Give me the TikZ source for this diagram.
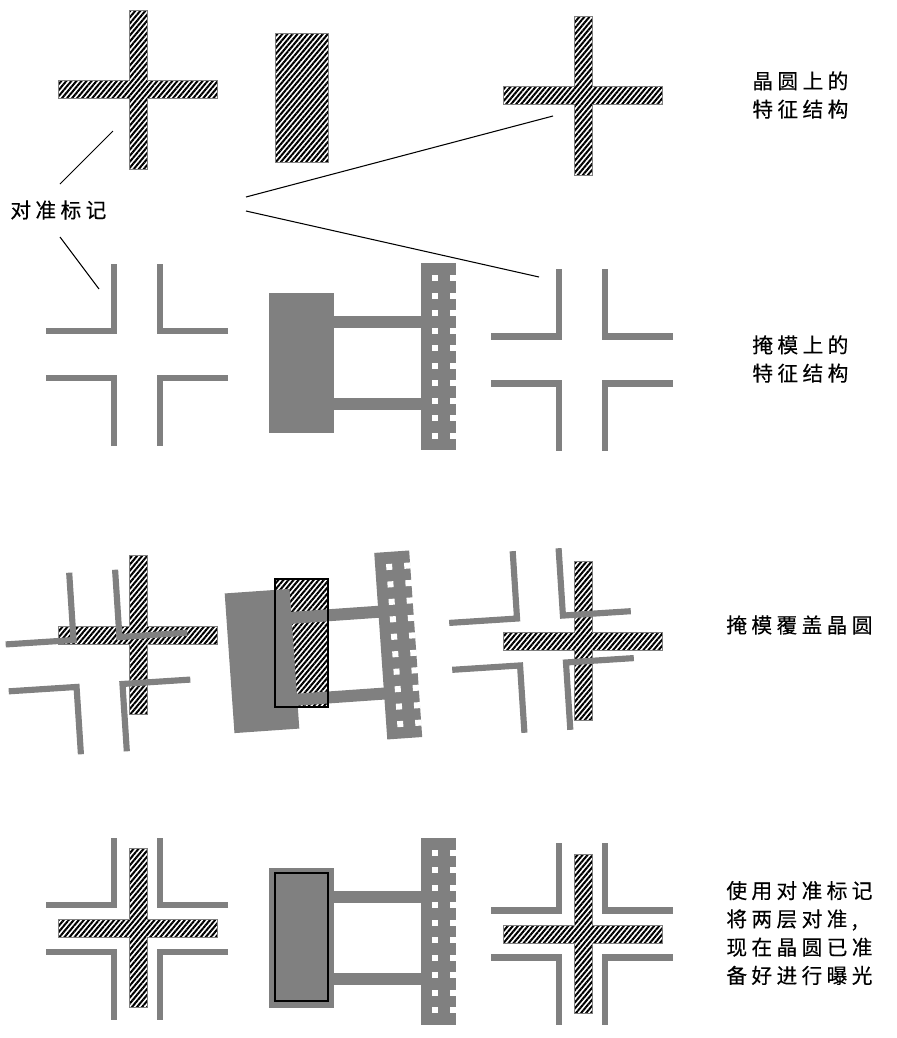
\documentclass[tikz,border=0pt]{standalone}
\usepackage{fontspec}
\usetikzlibrary{patterns.meta}
\newfontfamily\cjk[LetterSpace=21,FakeBold=0.2]{Noto Sans CJK SC}
\definecolor{maskgray}{RGB}{128,128,128}
\tikzset{hatch/.style={draw=gray,line width=0.4pt,pattern={Lines[angle=50,distance=2.2pt,line width=1.15pt]},pattern color=black}}
\tikzset{maskfill/.style={fill=maskgray,draw=none}}
\tikzset{maskbar/.style={draw=maskgray,line width=3.5pt,line cap=butt,miter limit=10}}
\tikzset{leader/.style={black,line width=0.6pt}}
\tikzset{outline/.style={black,line width=0.8pt}}
\tikzset{caption/.style={font=\cjk\fontsize{11.8}{16.1}\selectfont,align=left,inner sep=0pt,anchor=west}}
\tikzset{
  wafercross/.pic={
    \draw[hatch] (-9,-79.5) -- (9,-79.5) -- (9,-9) -- (79.5,-9) -- (79.5,9) -- (9,9) -- (9,79.5) -- (-9,79.5) -- (-9,9) -- (-79.5,9) -- (-79.5,-9) -- (-9,-9) -- cycle;
  },
  maskmark/.pic={
    \foreach \sx in {-1,1}
      \foreach \sy in {-1,1}
        \draw[maskbar] (\sx*91,\sy*23.5) -- (\sx*23,\sy*23.5) -- (\sx*23,\sy*91);
  },
  maskpart/.pic={
    \fill[maskfill] (-32.5,-70) rectangle (32.5,70);
    \fill[maskfill] (32,-47) rectangle (120,-35);
    \fill[maskfill] (32,35) rectangle (120,47);
    \fill[maskfill] (119.5,-100) rectangle (154.5,87);
    \foreach \h in {-85,-67.5,...,73}
    {
      \fill[white] (130.5,\h-3) rectangle (136.5,\h+3);
      \fill[white] (148.5,\h-3) rectangle (155,\h+3);
    }
  }
}
\begin{document}
\begin{tikzpicture}[x=0.02cm,y=-0.02cm]
  \useasboundingbox (0,0) rectangle (896,1038);

  % Wafer features
  \foreach \cx/\cy in {138/89.5,583/95.5,138/635,583/641,138/928,583/934}
    \pic at (\cx,\cy) {wafercross};
  \draw[hatch] (275,33) rectangle (328,162);
  \draw[hatch] (275,579) rectangle (328,707);

  % Mask features
  \foreach \cx/\cy in {137/354.5,582/360,137/928.5,582/934}
    \pic at (\cx,\cy) {maskmark};
  \pic at (301.5,363) {maskpart};
  \pic at (301.5,937.5) {maskpart};

  % Mask over wafer, turned
  \pic[rotate=3.7] at (98,662) {maskmark};
  \pic[rotate=3.7] at (541.5,640.5) {maskmark};
  \pic[rotate=4] at (262,661) {maskpart};
  \draw[outline] (275,579) rectangle (328,707);
  \draw[outline] (275,873) rectangle (328,1001);

  % Labels
  \node[caption] (lblmark) at (10,210) {对准标记};
  \node[caption] (lblwafer) at (752,95) {晶圆上的\\特征结构};
  \node[caption] (lblmask) at (752,359) {掩模上的\\特征结构};
  \node[caption] (lblover) at (726,625) {掩模覆盖晶圆};
  \node[caption] (lblready) at (726,933) {使用对准标记\\将两层对准,\\现在晶圆已准\\备好进行曝光};

  % Leaders
  \coordinate (a1) at (60,184);
  \coordinate (a2) at (113,131);
  \coordinate (b1) at (60,237);
  \coordinate (b2) at (99,289);
  \coordinate (c1) at (246,197);
  \coordinate (c2) at (553,116);
  \coordinate (d1) at (246,211);
  \coordinate (d2) at (539,277);
  \draw[leader] (a1) -- (a2);
  \draw[leader] (b1) -- (b2);
  \draw[leader] (c1) -- (c2);
  \draw[leader] (d1) -- (d2);
\end{tikzpicture}
\end{document}
